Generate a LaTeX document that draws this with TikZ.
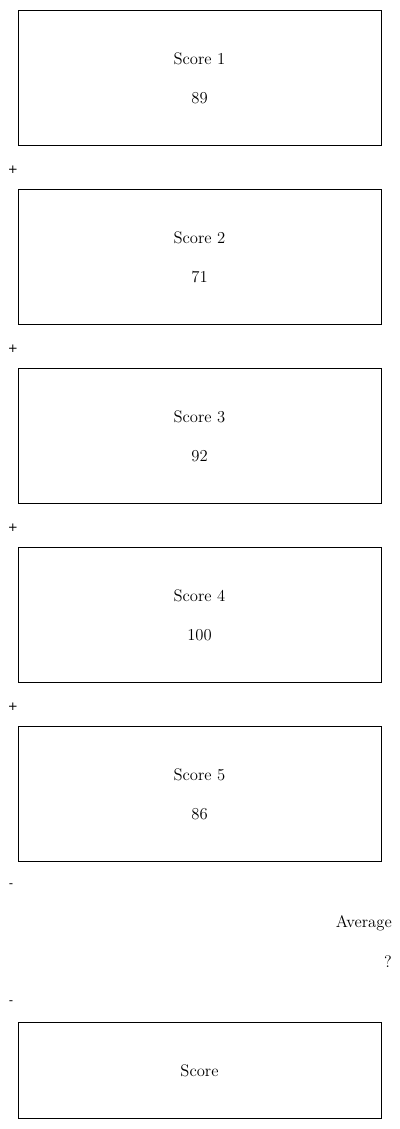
\documentclass[tikz,border=0pt]{standalone}
\usepackage{fontspec}
\newfontfamily\opsans{DejaVu Sans}
\begin{document}
\begin{tikzpicture}[x=0.75pt,y=-0.75pt,
  scorebox/.style={draw=black,line width=0.75pt,minimum width=363*0.75pt,inner sep=0pt,anchor=north west},
  lbl/.style={font=\fontsize{12.5}{15}\selectfont,inner sep=0pt},
  op/.style={font=\opsans\fontsize{9}{11}\selectfont,inner sep=0pt}]
\useasboundingbox (0,0) rectangle (400,1129);
\foreach \i/\y/\v in {1/10/89,2/189/71,3/368/92,4/547/100,5/726/86}{
  \node[scorebox,minimum height=135*0.75pt] (b\i) at (18,\y) {};
  \node[lbl] (t\i) at (199.5,\y+49) {Score \i};
  \node[lbl] (v\i) at (199.5,\y+88) {\v};
}
\node[op] (p1) at (13,170) {+};
\node[op] (p2) at (13,349) {+};
\node[op] (p3) at (13,528) {+};
\node[op] (p4) at (13,707) {+};
\node[op] (m1) at (11,886) {-};
\node[lbl,anchor=east] (avg) at (392,923) {Average};
\node[lbl,anchor=east] (q) at (392,962) {?};
\node[op] (m2) at (11,1003) {-};
\node[scorebox,minimum height=96*0.75pt] (b6) at (18,1022) {};
\node[lbl] (t6) at (199.5,1071) {Score};
\end{tikzpicture}
\end{document}
